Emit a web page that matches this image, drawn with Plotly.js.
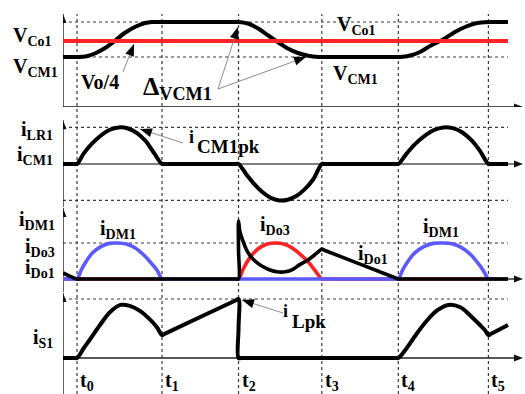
<!DOCTYPE html>
<html>
<head>
<meta charset="utf-8">
<script src="https://cdn.plot.ly/plotly-3.0.1.min.js"></script>
<style>
  html, body { margin: 0; padding: 0; background: #fff; }
  #chart { width: 525px; height: 394px; }
</style>
</head>
<body>
<div id="chart"></div>
<script>
// Switching instants t0..t5 (normalised time, one unit = t0..t1)
const tickTimes  = [0, 1, 1.9, 2.88, 3.78, 4.84];
const tickLabels = ['t<sub>0</sub>', 't<sub>1</sub>', 't<sub>2</sub>', 't<sub>3</sub>', 't<sub>4</sub>', 't<sub>5</sub>'];

// Panel 1: clamp capacitor voltage v_CM1 and output capacitor voltage V_Co1
const vcmT = [-0.165, 0.0, 0.1, 0.21, 0.33, 0.45, 0.56, 0.68, 0.80, 0.88, 0.92, 1.87, 1.9, 2.01, 2.13, 2.25, 2.37, 2.48, 2.60, 2.72, 2.84, 2.88, 3.78, 3.80, 3.92, 4.035, 4.153, 4.306, 4.447, 4.565, 4.682, 4.80, 4.86, 5.07];
const vcmV = [0.5, 0.5, 0.505, 0.535, 0.59, 0.665, 0.74, 0.80, 0.84, 0.85, 0.85, 0.85, 0.85, 0.835, 0.785, 0.715, 0.645, 0.585, 0.54, 0.512, 0.5, 0.5, 0.5, 0.5, 0.515, 0.55, 0.61, 0.675, 0.75, 0.80, 0.835, 0.848, 0.85, 0.85];
const vcoT = [-0.165, 5.07];
const vcoV = [0.66, 0.66];
const vLevels = [0.5, 0.85];

// Panel 2: resonant inductor current i_LR1 = i_CM1
const ilrT = [-0.165, -0.03, 0, 0.08, 0.17, 0.27, 0.38, 0.49, 0.6, 0.71, 0.81, 0.9, 1.0, 1.03, 1.87, 1.9, 1.99, 2.08, 2.18, 2.28, 2.38, 2.48, 2.58, 2.68, 2.78, 2.88, 2.91, 3.75, 3.78, 3.88, 3.98, 4.09, 4.2, 4.31, 4.42, 4.53, 4.64, 4.74, 4.84, 4.87, 5.07];
const ilrV = [0, 0, 0, 0.29, 0.54, 0.76, 0.93, 1.0, 0.97, 0.84, 0.62, 0.32, 0, 0, 0, 0, -0.28, -0.54, -0.77, -0.93, -1.0, -0.98, -0.88, -0.69, -0.42, 0, 0, 0, 0, 0.29, 0.55, 0.77, 0.93, 1.0, 0.98, 0.87, 0.65, 0.36, 0, 0, 0];
const iLevels = [1, -1];

// Panel 3: diode currents i_DM1 (blue), i_Do3 (red), i_Do1 (black)
const dm1T = [-0.165, -0.03, 0, 0.05, 0.1, 0.18, 0.28, 0.38, 0.48, 0.58, 0.68, 0.78, 0.87, 0.94, 1.0, 1.03, 3.75, 3.78, 3.83, 3.89, 3.97, 4.08, 4.19, 4.3, 4.41, 4.52, 4.63, 4.71, 4.78, 4.84, 4.87, 5.07];
const dm1V = [0, 0, 0, 0.25, 0.46, 0.72, 0.9, 0.99, 1.0, 0.97, 0.87, 0.68, 0.45, 0.25, 0, 0, 0, 0, 0.25, 0.48, 0.72, 0.9, 0.99, 1.0, 0.98, 0.88, 0.68, 0.46, 0.24, 0, 0, 0];
const do3T = [-0.165, 1.87, 1.9, 1.96, 2.03, 2.12, 2.22, 2.32, 2.42, 2.52, 2.62, 2.71, 2.79, 2.88, 2.91, 5.07];
const do3V = [0, 0, 0, 0.3, 0.58, 0.82, 0.96, 1.0, 0.98, 0.88, 0.7, 0.5, 0.27, 0, 0, 0];
const do1T = [-0.165, 0, 0.03, 1.87, 1.9, 1.9, 1.9, 1.918, 1.953, 2.0, 2.06, 2.12, 2.19, 2.27, 2.35, 2.45, 2.54, 2.62, 2.71, 2.79, 2.86, 2.88, 2.91, 3.75, 3.78, 3.81, 5.07];
const do1V = [0.17, 0, 0, 0, 0, 0.8, 1.61, 1.3, 1.05, 0.78, 0.58, 0.45, 0.34, 0.25, 0.2, 0.2, 0.27, 0.4, 0.52, 0.66, 0.8, 0.83, 0.80, 0.028, 0, 0, 0];
const dLevels = [1];

// Panel 4: switch current i_S1
const is1T = [-0.165, -0.03, 0, 0.08, 0.15, 0.27, 0.39, 0.51, 0.62, 0.74, 0.86, 0.94, 1.0, 1.03, 1.87, 1.9, 1.9, 1.9, 1.93, 3.75, 3.78, 3.88, 4.0, 4.12, 4.24, 4.37, 4.51, 4.62, 4.74, 4.8, 4.84, 4.87, 5.07];
const is1V = [0, 0, 0, 0.17, 0.31, 0.56, 0.78, 0.9, 0.885, 0.8, 0.65, 0.52, 0.39, 0.41, 0.98, 1.0, 0.5, 0, 0, 0, 0, 0.17, 0.42, 0.64, 0.81, 0.9, 0.86, 0.73, 0.56, 0.47, 0.39, 0.41, 0.56];
const sLevels = [1];

// ---- geometry helpers (figure pixels -> paper fractions) ----
const W = 525, H = 394, ML = 63, MR = 2;
const PW = W - ML - MR;
const PX = p => (p - ML) / PW;
const PY = p => 1 - p / H;
const X0 = -0.165, X1 = 5.247, XE = 5.07;

const BLACK = '#000', RED = '#ff2323', BLUE = '#5a5aff', DOT = '#3a3a3a';
const FONT = 'Liberation Serif';

function wave(x, y, axis, color, width) {
  return { x, y, xaxis: 'x', yaxis: axis, mode: 'lines', hoverinfo: 'skip',
           line: { color, width, shape: 'spline', smoothing: 1 } };
}

const data = [
  wave(vcmT, vcmV, 'y', BLACK, 4),
  wave(vcoT, vcoV, 'y', RED, 4),
  wave(ilrT, ilrV, 'y2', BLACK, 4),
  wave(do3T, do3V, 'y3', RED, 3.6),
  wave(dm1T, dm1V, 'y3', BLUE, 3.6),
  wave(do1T, do1V, 'y3', BLACK, 3.6),
  wave(is1T, is1V, 'y4', BLACK, 4)
];

const shapes = [];
// dotted guides
tickTimes.forEach(t => shapes.push({ type: 'line', layer: 'below', xref: 'x', yref: 'paper',
  x0: t, x1: t, y0: 0, y1: PY(14), line: { color: DOT, width: 1.2, dash: 'dot' } }));
function hDots(levels, yref) {
  levels.forEach(v => shapes.push({ type: 'line', layer: 'below', xref: 'x', yref,
    x0: X0, x1: XE, y0: v, y1: v, line: { color: DOT, width: 1.2, dash: 'dot' } }));
}
hDots(vLevels, 'y'); hDots(iLevels, 'y2'); hDots(dLevels, 'y3'); hDots(sLevels, 'y4');

// solid arrow head: tip anchored at (ax, ay); (ux, uy) = screen direction from tip back to tail
function head(ax, ay, xref, yref, ux, uy, len, half, color) {
  const bx = ux * len, by = uy * len, nx = -uy * half, ny = ux * half;
  const pts = [[0, 0], [bx + nx, by + ny], [bx - nx, by - ny]]
    .map(p => p[0].toFixed(2) + ',' + (-p[1]).toFixed(2));
  shapes.push({ type: 'path', layer: 'above', xref, yref, xsizemode: 'pixel', ysizemode: 'pixel',
    xanchor: ax, yanchor: ay, path: 'M' + pts.join('L') + 'Z', fillcolor: color, line: { width: 0 } });
}

// axes: horizontal time axes and vertical axes, each ending in an arrow
function hAxis(yref, color) {
  shapes.push({ type: 'line', layer: 'below', xref: 'x', yref, x0: X0, x1: X1 - 0.05, y0: 0, y1: 0,
    line: { color, width: 1.4 } });
  head(X1, 0, 'x', yref, -1, 0, 9, 3.5, '#111');
}
function vAxis(yref, top, bottom) {
  shapes.push({ type: 'line', layer: 'below', xref: 'x', yref, x0: X0, x1: X0, y0: bottom, y1: top,
    line: { color: '#111', width: 1.3 } });
  head(X0, top, 'x', yref, 0, 1, 9, 3.5, '#111');
}
hAxis('y', '#111'); hAxis('y2', '#555'); hAxis('y3', '#333'); hAxis('y4', '#222');
vAxis('y', 0.93, 0);
vAxis('y2', 1.2, -1.18);
vAxis('y3', 1.97, -0.36);
vAxis('y4', 1.10, -0.61);

// callout pointers: thin grey leader with a solid black head
function pointer(tip, tail) {
  const dx = tail[0] - tip[0], dy = tail[1] - tip[1], L = Math.hypot(dx, dy);
  shapes.push({ type: 'line', layer: 'above', xref: 'paper', yref: 'paper',
    x0: PX(tip[0]), y0: PY(tip[1]), x1: PX(tail[0]), y1: PY(tail[1]), line: { color: '#808080', width: 0.9 } });
  head(PX(tip[0]), PY(tip[1]), 'paper', 'paper', dx / L, dy / L, 12, 4.5, '#000');
}
pointer([134, 44], [123, 72]);
pointer([238, 27], [218, 89]);
pointer([306, 57], [218, 89]);
pointer([140, 129], [183, 143]);
pointer([242, 300], [283, 313]);

// text labels
const ann = [];
function label(text, x, y, xanchor, size) {
  ann.push({ xref: 'paper', yref: 'paper', x: PX(x), y: PY(y), xanchor, yanchor: 'middle',
    text, showarrow: false, borderpad: 0,
    font: { family: FONT, size: size || 20, color: '#000', weight: 'bold' } });
}
label('V<sub>Co1</sub>', 53, 36, 'right');
label('V<sub>CM1</sub>', 59, 68, 'right');
label('Vo/4', 80, 82, 'left');
label('Δ<sub>VCM1</sub>', 142, 88, 'left', 26);
label('V<sub>Co1</sub>', 336, 25, 'left');
label('V<sub>CM1</sub>', 332, 74, 'left');
label('i<sub>LR1</sub>', 54, 130, 'right');
label('i<sub>CM1</sub>', 54, 155, 'right');
label('i', 188, 137, 'left', 18);
label('CM1pk', 196, 147, 'left', 19);
label('i<sub>DM1</sub>', 56, 221, 'right');
label('i<sub>Do3</sub>', 56, 247, 'right');
label('i<sub>Do1</sub>', 56, 268, 'right');
label('i<sub>DM1</sub>', 99, 229, 'left');
label('i<sub>Do3</sub>', 259, 225, 'left');
label('i<sub>Do1</sub>', 357, 254, 'left');
label('i<sub>DM1</sub>', 422, 227, 'left');
label('i<sub>S1</sub>', 54, 338, 'right');
label('i', 282, 311, 'left', 18);
label('Lpk', 291, 321, 'left', 19);
tickTimes.forEach((t, k) => ann.push({ xref: 'x', yref: 'paper', x: t, y: PY(381), xshift: 2,
  xanchor: 'left', yanchor: 'middle', text: tickLabels[k], showarrow: false, borderpad: 0,
  font: { family: FONT, size: 20, color: '#000', weight: 'bold' } }));

const hidden = { visible: false, fixedrange: true, anchor: 'x' };
const layout = {
  width: W, height: H,
  margin: { l: ML, r: MR, t: 0, b: 0, pad: 0 },
  paper_bgcolor: '#fff', plot_bgcolor: '#fff',
  showlegend: false,
  xaxis: { range: [X0, X1], visible: false, fixedrange: true, anchor: 'y4' },
  yaxis:  Object.assign({ domain: [PY(107), 1],      range: [0, 1.07] }, hidden),
  yaxis2: Object.assign({ domain: [PY(207), PY(107)], range: [-1.18, 1.56] }, hidden),
  yaxis3: Object.assign({ domain: [PY(292), PY(207)], range: [-0.36, 2.0] }, hidden),
  yaxis4: Object.assign({ domain: [0, PY(292)],       range: [-0.61, 1.119] }, hidden),
  shapes, annotations: ann
};

Plotly.newPlot('chart', data, layout, { staticPlot: true, displayModeBar: false });
</script>
</body>
</html>
